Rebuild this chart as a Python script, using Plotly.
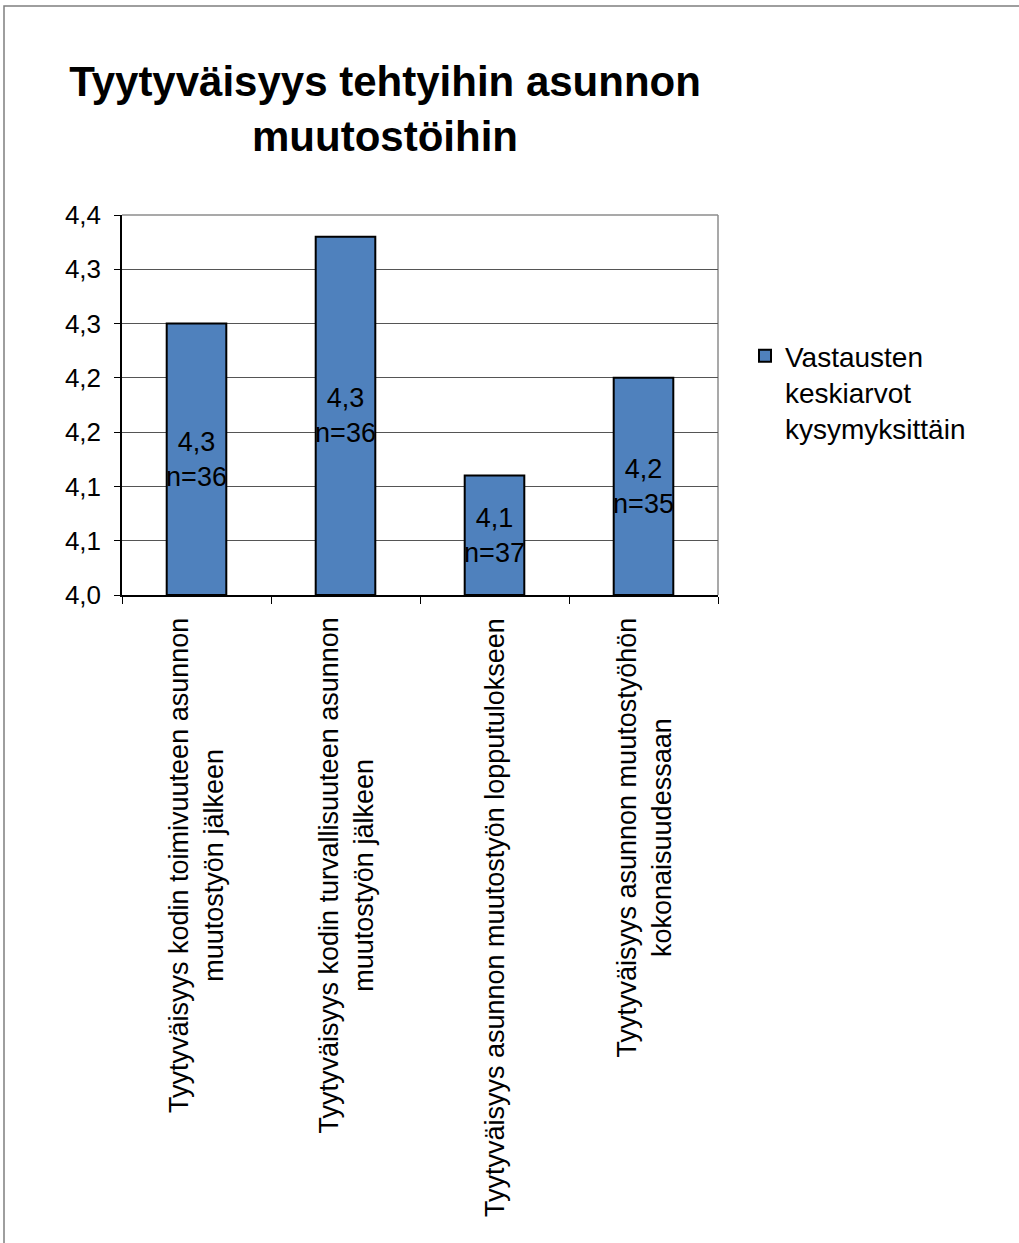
import math
import plotly.graph_objects as go

# ---- data ----
categories = [
    "Tyytyväisyys kodin toimivuuteen asunnon<br>muutostyön jälkeen",
    "Tyytyväisyys kodin turvallisuuteen asunnon<br>muutostyön jälkeen",
    "Tyytyväisyys asunnon muutostyön lopputulokseen",
    "Tyytyväisyys asunnon muutostyöhön<br>kokonaisuudessaan",
]
mean_values = [4.25, 4.33, 4.11, 4.20]
n_values = [36, 36, 37, 35]
series_name = "Vastausten<br>keskiarvot<br>kysymyksittäin"
y_tickvals = [4.00, 4.05, 4.10, 4.15, 4.20, 4.25, 4.30, 4.35]
y_ticktext = ["4,0", "4,1", "4,1", "4,2", "4,2", "4,3", "4,3", "4,4"]
title_text = "Tyytyväisyys tehtyihin asunnon<br>muutostöihin"

FONT = "Liberation Sans, Arial, sans-serif"
W, H = 1019, 1243
L, R, T, B = 122, 718, 215, 595  # plot area pixels
axis_min = y_tickvals[0]
axis_max = y_tickvals[-1]


def fmt(v):
    r = math.floor(v * 10 + 0.5) / 10
    return f"{r:.1f}".replace(".", ",")


bar_text = [f"{fmt(v)}<br>n={n}" for v, n in zip(mean_values, n_values)]

fig = go.Figure()
fig.add_trace(go.Bar(
    x=categories,
    y=[v - axis_min for v in mean_values],
    base=axis_min,
    customdata=mean_values,
    hovertemplate="%{customdata}<extra></extra>",
    name=series_name,
    marker=dict(color="#4F81BD", line=dict(color="#000000", width=2)),
    width=0.4,
    text=bar_text,
    textposition="inside",
    insidetextanchor="middle",
    constraintext="none",
    textfont=dict(family=FONT, size=27, color="#000000"),
    showlegend=True,
))


def px_x(px):
    return (px - L) / (R - L)


def px_y(py):
    return (B - py) / (B - T)


# category labels (rotated, centered lines)
for c in categories:
    fig.add_annotation(
        x=c, y=0, xref="x", yref="paper",
        xanchor="center", yanchor="top", yshift=-21,
        text=c, textangle=-90, align="center", showarrow=False,
        font=dict(family=FONT, size=27, color="#000000"),
    )

# outer chart border
fig.add_shape(type="rect", xref="paper", yref="paper",
              x0=px_x(4), x1=px_x(1060), y0=px_y(1290), y1=px_y(6),
              line=dict(color="#7f7f7f", width=1.5), fillcolor="rgba(0,0,0,0)",
              layer="below")
# plot area top/right border (gray)
fig.add_shape(type="line", xref="paper", yref="paper", x0=0, x1=1, y0=1, y1=1,
              line=dict(color="#8c8c8c", width=1.5), layer="below")
fig.add_shape(type="line", xref="paper", yref="paper", x0=1, x1=1, y0=0, y1=1,
              line=dict(color="#8c8c8c", width=1.5), layer="below")

fig.update_layout(
    width=W, height=H,
    margin=dict(l=L, r=W - R, t=T, b=H - B, pad=0),
    paper_bgcolor="white", plot_bgcolor="white",
    font=dict(family=FONT, color="#000000"),
    title=dict(text=title_text, x=385 / W, xanchor="center", xref="container",
               y=1 - 96 / H, yanchor="middle", yref="container",
               font=dict(family=FONT, size=42, color="#000000", weight="bold")),
    legend=dict(x=px_x(745), xanchor="left", y=px_y(331), yanchor="top",
                valign="top", font=dict(family=FONT, size=28, color="#000000"),
                bgcolor="rgba(0,0,0,0)", itemwidth=30),
)

fig.update_xaxes(
    type="category",
    categoryorder="array", categoryarray=categories,
    showticklabels=False,
    tickson="boundaries", ticks="outside", ticklen=7, tickcolor="#000000",
    showline=True, linecolor="#000000", linewidth=1.5,
    showgrid=False, zeroline=False, fixedrange=True,
)
fig.update_yaxes(
    range=[axis_min, axis_max],
    tickvals=y_tickvals, ticktext=y_ticktext,
    ticks="outside", ticklen=6, tickcolor="#000000",
    tickfont=dict(family=FONT, size=26, color="#000000"),
    ticklabelstandoff=8,
    showline=True, linecolor="#000000", linewidth=1.5,
    showgrid=True, gridcolor="#555555", gridwidth=1,
    zeroline=False, fixedrange=True,
)

fig.write_html(
    "out.html",
    config={"displayModeBar": False},
    post_script="document.body.style.margin='0';document.body.style.overflow='hidden';",
)
